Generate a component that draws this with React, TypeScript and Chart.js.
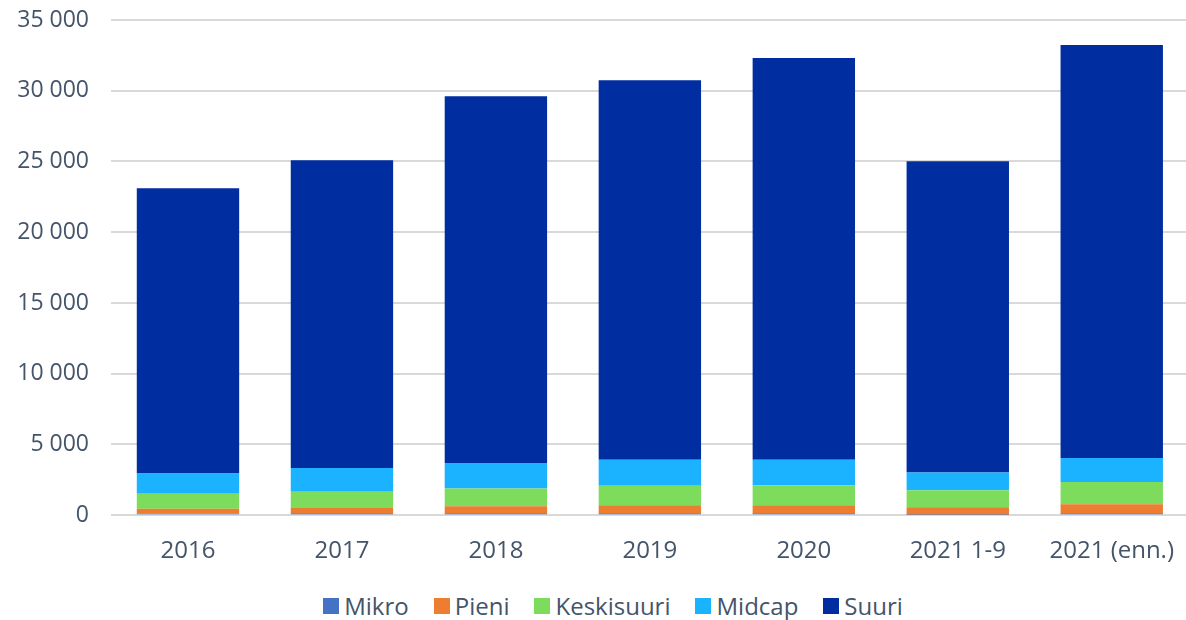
import React, { useEffect, useRef } from "react";
import { Chart, registerables } from "chart.js";

Chart.register(...registerables);

const categories = ["2016", "2017", "2018", "2019", "2020", "2021 1-9", "2021 (enn.)"];
const mikro = [100, 140, 140, 140, 140, 40, 140];
const pieni = [350, 377, 498, 568, 568, 527, 639];
const keskisuuri = [1060, 1134, 1254, 1368, 1417, 1204, 1559];
const midcap = [1445, 1679, 1792, 1842, 1793, 1254, 1700];
const suuri = [20145, 21750, 25931, 26831, 28390, 21985, 29191];

const seriesNames = ["Mikro", "Pieni", "Keskisuuri", "Midcap", "Suuri"];
const seriesValues = [mikro, pieni, keskisuuri, midcap, suuri];
const seriesColors = ["#4472C4", "#ED7D31", "#7EDC5C", "#1BB3FF", "#002DA0"];

const yMax = 35000;
const yStep = 5000;

const textColor = "#44546A";
const fontFamily = "'Open Sans', 'Liberation Sans', sans-serif";

const fmt = (v: number) => String(v).replace(/\B(?=(\d{3})+(?!\d))/g, " ");

export default function App() {
  const ref = useRef<HTMLCanvasElement | null>(null);

  useEffect(() => {
    document.body.style.margin = "0";
    document.body.style.overflow = "hidden";
    const canvas = ref.current;
    if (!canvas) return;
    const chart = new Chart(canvas, {
      type: "bar",
      data: {
        labels: categories,
        datasets: seriesNames.map((name, i) => ({
          label: name,
          data: seriesValues[i],
          backgroundColor: seriesColors[i],
          borderWidth: 0,
          categoryPercentage: 1,
          barPercentage: 0.665,
        })),
      },
      options: {
        animation: false,
        responsive: false,
        maintainAspectRatio: false,
        layout: { padding: { top: 20, right: 0, left: 0, bottom: 0 } },
        plugins: {
          legend: { display: false },
          tooltip: { enabled: false },
        },
        scales: {
          x: {
            stacked: true,
            grid: { display: false, drawTicks: false },
            border: { display: false },
            ticks: {
              color: textColor,
              font: { family: fontFamily, size: 24 },
              padding: 22,
              maxRotation: 0,
              autoSkip: false,
            },
          },
          y: {
            stacked: true,
            min: 0,
            max: yMax,
            grid: { color: "#D9D9D9", lineWidth: 2, drawTicks: false },
            border: { display: false },
            ticks: {
              stepSize: yStep,
              color: textColor,
              font: { family: fontFamily, size: 23 },
              padding: 22,
              callback: (v: any) => fmt(Number(v)),
            },
            afterFit: (scale: any) => {
              scale.width = 111;
              scale.paddingTop = 0;
              scale.paddingBottom = 0;
            },
          },
        },
      },
    });
    return () => chart.destroy();
  }, []);

  return (
    <div style={{ position: "absolute", left: 0, top: 0, width: 1196, height: 620, background: "#fff" }}>
      <canvas ref={ref} width={1196} height={588} style={{ display: "block" }} />
      <div
        style={{
          position: "absolute",
          top: 590,
          left: 0,
          width: 1226,
          display: "flex",
          justifyContent: "center",
          gap: 25,
          fontFamily,
          fontSize: 24,
          color: textColor,
          lineHeight: "32px",
        }}
      >
        {seriesNames.map((name, i) => (
          <div key={name} style={{ display: "flex", alignItems: "center" }}>
            <span style={{ display: "inline-block", width: 16, height: 16, background: seriesColors[i], marginRight: 5 }} />
            <span>{name}</span>
          </div>
        ))}
      </div>
    </div>
  );
}
